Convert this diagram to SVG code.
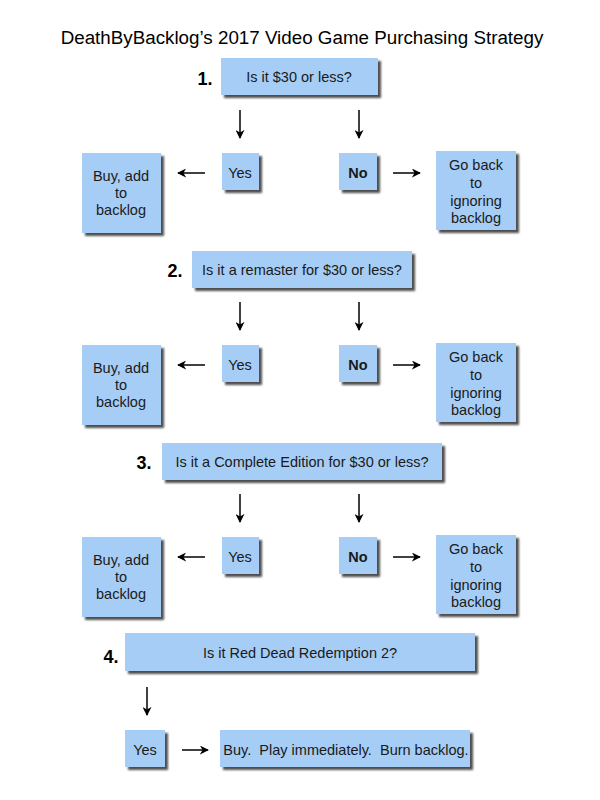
<svg xmlns="http://www.w3.org/2000/svg" width="600" height="800" viewBox="0 0 600 800">
<defs>
<filter id="sh" x="-20%" y="-20%" width="150%" height="160%">
<feDropShadow dx="3" dy="3" stdDeviation="1.3" flood-color="#3a3a3a" flood-opacity="0.9"/>
</filter>
<marker id="ah" viewBox="0 0 10 10" refX="9" refY="5" markerWidth="9" markerHeight="9" markerUnits="userSpaceOnUse" orient="auto">
<path d="M0,0 L10,5 L0,10 L3,5 Z" fill="#000"/>
</marker>
<style>
.b{fill:#a6cdf5;filter:url(#sh)}
.t{font-family:"Liberation Sans",Arial,sans-serif;font-size:14.5px;fill:#1a1a1a;text-anchor:middle;white-space:pre}
.n{font-family:"Liberation Sans",Arial,sans-serif;font-size:18px;font-weight:bold;fill:#000;text-anchor:middle}
.tb{font-weight:bold}
.c line{stroke:#000;stroke-width:1.5;marker-end:url(#ah)}
</style>
</defs>
<rect width="600" height="800" fill="#fff"/>
<text x="302" y="44" style="font-family:'Liberation Sans',Arial,sans-serif;font-size:18.8px;fill:#000" text-anchor="middle">DeathByBacklog’s 2017 Video Game Purchasing Strategy</text>

<g id="q1"><text class="n" x="205" y="85">1.</text><rect class="b" x="221" y="58" width="157" height="37"/><text class="t" x="299" y="82">Is it $30 or less?</text></g>
<g id="yes1"><rect class="b" x="222" y="153" width="37" height="37"/><text class="t" x="240" y="178">Yes</text></g>
<g id="buy1"><rect class="b" x="82" y="153" width="79" height="80"/><text class="t" x="121" y="181">Buy, add</text><text class="t" x="121" y="198">to</text><text class="t" x="121" y="215">backlog</text></g>
<g id="no1"><rect class="b" x="339" y="153" width="38" height="37"/><text class="t tb" x="358" y="178">No</text></g>
<g id="back1"><rect class="b" x="436" y="151" width="80" height="79"/><text class="t" x="476" y="170">Go back</text><text class="t" x="476" y="188">to</text><text class="t" x="476" y="206">ignoring</text><text class="t" x="476" y="223">backlog</text></g>

<g id="q2"><text class="n" x="175" y="277">2.</text><rect class="b" x="192" y="251" width="220" height="37"/><text class="t" x="302" y="275">Is it a remaster for $30 or less?</text></g>
<g id="yes2"><rect class="b" x="222" y="345" width="37" height="37"/><text class="t" x="240" y="370">Yes</text></g>
<g id="buy2"><rect class="b" x="82" y="345" width="79" height="80"/><text class="t" x="121" y="373">Buy, add</text><text class="t" x="121" y="390">to</text><text class="t" x="121" y="407">backlog</text></g>
<g id="no2"><rect class="b" x="339" y="345" width="38" height="37"/><text class="t tb" x="358" y="370">No</text></g>
<g id="back2"><rect class="b" x="436" y="343" width="80" height="79"/><text class="t" x="476" y="362">Go back</text><text class="t" x="476" y="380">to</text><text class="t" x="476" y="398">ignoring</text><text class="t" x="476" y="415">backlog</text></g>

<g id="q3"><text class="n" x="144" y="469">3.</text><rect class="b" x="162" y="443" width="280" height="37"/><text class="t" x="302" y="467">Is it a Complete Edition for $30 or less?</text></g>
<g id="yes3"><rect class="b" x="222" y="537" width="37" height="37"/><text class="t" x="240" y="562">Yes</text></g>
<g id="buy3"><rect class="b" x="82" y="537" width="79" height="80"/><text class="t" x="121" y="565">Buy, add</text><text class="t" x="121" y="582">to</text><text class="t" x="121" y="599">backlog</text></g>
<g id="no3"><rect class="b" x="339" y="537" width="38" height="37"/><text class="t tb" x="358" y="562">No</text></g>
<g id="back3"><rect class="b" x="436" y="535" width="80" height="79"/><text class="t" x="476" y="554">Go back</text><text class="t" x="476" y="572">to</text><text class="t" x="476" y="590">ignoring</text><text class="t" x="476" y="607">backlog</text></g>

<g id="q4"><text class="n" x="111" y="663">4.</text><rect class="b" x="125" y="633" width="350" height="38"/><text class="t" x="300" y="658">Is it Red Dead Redemption 2?</text></g>
<g id="yes4"><rect class="b" x="125" y="730" width="40" height="37"/><text class="t" x="145" y="755">Yes</text></g>
<g id="buy4"><rect class="b" x="220" y="730" width="250" height="37"/><text class="t" x="346" y="755" xml:space="preserve">Buy.  Play immediately.  Burn backlog.</text></g>

<g class="c" id="connectors">
<line x1="240" y1="110" x2="240" y2="138"/>
<line x1="359" y1="110" x2="359" y2="138"/>
<line x1="205" y1="173" x2="178" y2="173"/>
<line x1="393" y1="173" x2="420" y2="173"/>
<line x1="240" y1="302" x2="240" y2="330"/>
<line x1="359" y1="302" x2="359" y2="330"/>
<line x1="205" y1="365" x2="178" y2="365"/>
<line x1="393" y1="365" x2="420" y2="365"/>
<line x1="240" y1="494" x2="240" y2="522"/>
<line x1="359" y1="494" x2="359" y2="522"/>
<line x1="205" y1="557" x2="178" y2="557"/>
<line x1="393" y1="557" x2="420" y2="557"/>
<line x1="147" y1="687" x2="147" y2="715"/>
<line x1="182" y1="750" x2="208" y2="750"/>
</g>
</svg>
